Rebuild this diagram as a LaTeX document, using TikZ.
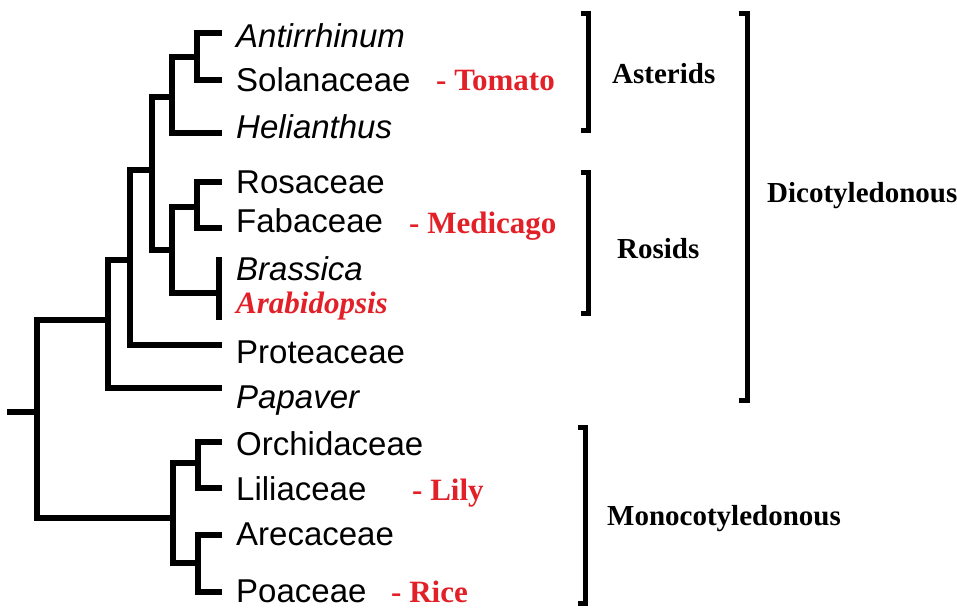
\documentclass[tikz,border=0pt]{standalone}
\usepackage{fontspec}
\setmainfont{Liberation Serif}
\setsansfont{Liberation Sans}
\usetikzlibrary{positioning}
\definecolor{tagred}{RGB}{226,32,40}

\begin{document}
\begin{tikzpicture}[
        x=1pt, y=-1pt,
        branch/.style={line width=6.5pt, line cap=rect, line join=miter},
        clade/.style={line width=5pt, line join=miter},
        leaf/.style={anchor=base west, inner sep=0pt, font=\fontsize{33}{36}\selectfont\sffamily},
        leafit/.style={leaf, font=\fontsize{33}{36}\selectfont\sffamily\itshape},
        tag/.style={anchor=base west, inner sep=0pt, text=tagred, font=\fontsize{31}{34}\selectfont\bfseries},
        group/.style={anchor=base west, inner sep=0pt, font=\fontsize{29}{33}\selectfont\bfseries},
    ]
        \useasboundingbox (0,0) rectangle (957,608);

        % internal nodes
        \coordinate (stem) at (10,412);
        \coordinate (root) at (37,412);
        \coordinate (dico) at (108,320);
        \coordinate (core) at (130,260);
        \coordinate (eud) at (152,170);
        \coordinate (ast) at (172,97);
        \coordinate (sol) at (197,57);
        \coordinate (ros) at (172,250);
        \coordinate (fab) at (197,207);
        \coordinate (bra) at (219,293);
        \coordinate (mono) at (173,518);
        \coordinate (lil) at (198,463);
        \coordinate (poa) at (198,563);

        % leaf tips
        \coordinate (tAnt) at (219,33);
        \coordinate (tSol) at (219,80);
        \coordinate (tHel) at (219,133);
        \coordinate (tRos) at (219,182);
        \coordinate (tFab) at (219,228);
        \coordinate (tBra) at (219,260);
        \coordinate (tAra) at (219,317);
        \coordinate (tPro) at (219,345);
        \coordinate (tPap) at (219,388);
        \coordinate (tOrc) at (219,442);
        \coordinate (tLil) at (219,488);
        \coordinate (tAre) at (219,535);
        \coordinate (tPoa) at (219,592);

        \node[leafit] (ant) at (236,47) {Antirrhinum};
        \node[leaf] (solan) at (236,91) {Solanaceae};
        \node[leafit] (hel) at (236,138) {Helianthus};
        \node[leaf] (rosa) at (236,193) {Rosaceae};
        \node[leaf] (faba) at (236,232) {Fabaceae};
        \node[leafit] (bras) at (236,280) {Brassica};
        \node[tag, font=\fontsize{31}{34}\selectfont\bfseries\itshape] (arab) at (236,313) {Arabidopsis};
        \node[leaf] (prot) at (236,363) {Proteaceae};
        \node[leafit] (pap) at (236,408) {Papaver};
        \node[leaf] (orch) at (236,455) {Orchidaceae};
        \node[leaf] (lili) at (236,500) {Liliaceae};
        \node[leaf] (arec) at (236,545) {Arecaceae};
        \node[leaf] (poac) at (236,602) {Poaceae};

        \node[tag] (tomato) at (436,90) {- Tomato};
        \node[tag] (medicago) at (409,233) {- Medicago};
        \node[tag] (lily) at (412,500) {- Lily};
        \node[tag] (rice) at (391,602) {- Rice};

        % tree
        \draw[branch] (stem) -- (root);
        \draw[branch] (root) |- (dico);
        \draw[branch] (root) |- (mono);
        \draw[branch] (dico) |- (core);
        \draw[branch] (dico) |- (tPap);
        \draw[branch] (core) |- (eud);
        \draw[branch] (core) |- (tPro);
        \draw[branch] (eud) |- (ast);
        \draw[branch] (eud) |- (ros);
        \draw[branch] (ast) |- (sol);
        \draw[branch] (ast) |- (tHel);
        \draw[branch] (sol) |- (tAnt);
        \draw[branch] (sol) |- (tSol);
        \draw[branch] (ros) |- (fab);
        \draw[branch] (ros) |- (bra);
        \draw[branch] (fab) |- (tRos);
        \draw[branch] (fab) |- (tFab);
        \draw[branch] (tBra) -- (tAra);
        \draw[branch] (mono) |- (lil);
        \draw[branch] (mono) |- (poa);
        \draw[branch] (lil) |- (tOrc);
        \draw[branch] (lil) |- (tLil);
        \draw[branch] (poa) |- (tAre);
        \draw[branch] (poa) |- (tPoa);

        % clade brackets
        \draw[clade] (581,13) -- (588,13) -- (588,130) -- (581,130);
        \draw[clade] (581,172) -- (588,172) -- (588,313) -- (581,313);
        \draw[clade] (739,13) -- (747,13) -- (747,400) -- (739,400);
        \draw[clade] (578,427) -- (585,427) -- (585,603) -- (578,603);

        \node[group] (asterids) at (612,83) {Asterids};
        \node[group] (rosids) at (617,258) {Rosids};
        \node[group] (dicot) at (767,202) {Dicotyledonous};
        \node[group] (monocot) at (607,525) {Monocotyledonous};
    \end{tikzpicture}
\end{document}
